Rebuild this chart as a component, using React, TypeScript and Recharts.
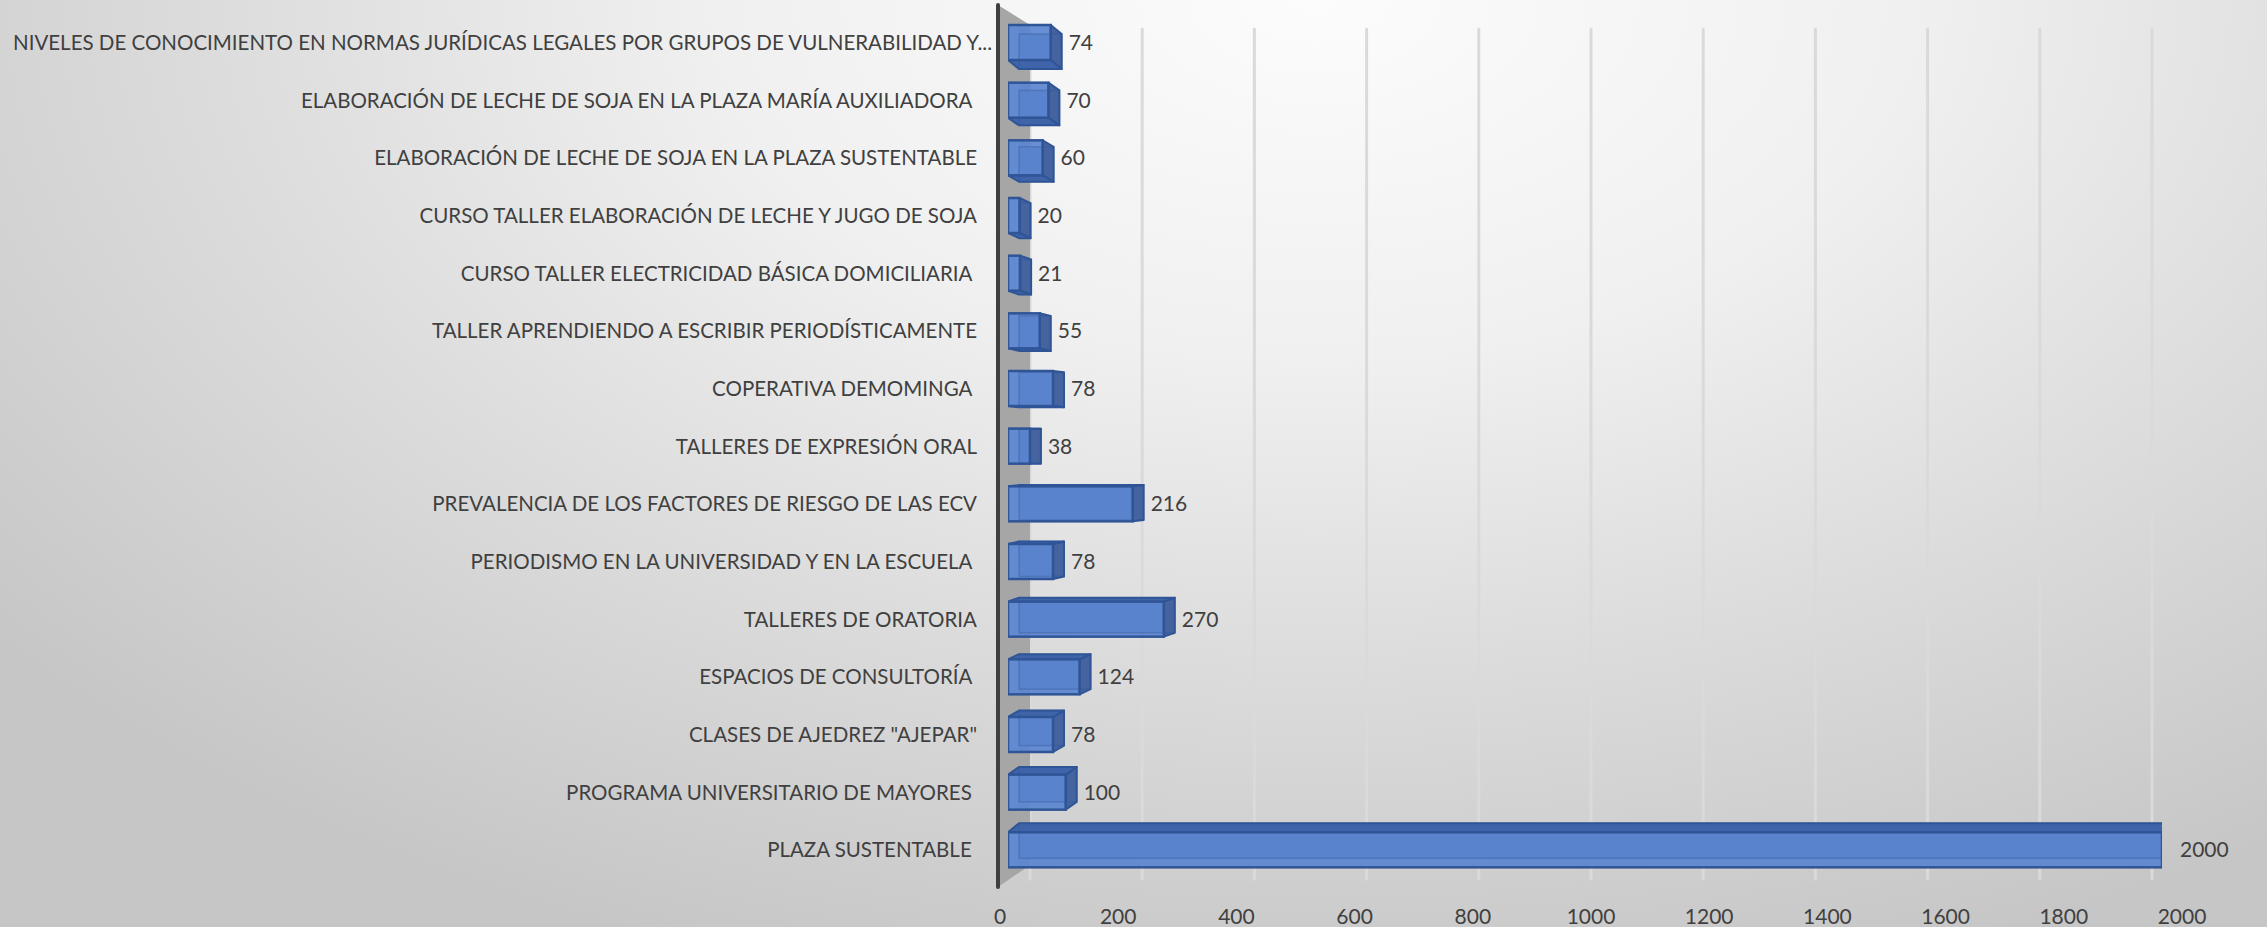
import React from "react";
import {
  BarChart,
  Bar,
  XAxis,
  YAxis,
  CartesianGrid,
  LabelList,
  ReferenceArea,
} from "recharts";

const categories: string[] = [
  "NIVELES DE CONOCIMIENTO EN NORMAS JURÍDICAS LEGALES POR GRUPOS DE VULNERABILIDAD Y...",
  "ELABORACIÓN DE LECHE DE SOJA EN LA PLAZA MARÍA AUXILIADORA\u00A0",
  "ELABORACIÓN DE LECHE DE SOJA EN LA PLAZA SUSTENTABLE",
  "CURSO TALLER ELABORACIÓN DE LECHE Y JUGO DE SOJA",
  "CURSO TALLER ELECTRICIDAD BÁSICA DOMICILIARIA\u00A0",
  "TALLER APRENDIENDO A ESCRIBIR PERIODÍSTICAMENTE",
  "COPERATIVA DEMOMINGA\u00A0",
  "TALLERES DE EXPRESIÓN ORAL",
  "PREVALENCIA DE LOS FACTORES DE RIESGO DE LAS ECV",
  "PERIODISMO EN LA UNIVERSIDAD Y EN LA ESCUELA\u00A0",
  "TALLERES DE ORATORIA",
  "ESPACIOS DE CONSULTORÍA\u00A0",
  'CLASES DE AJEDREZ "AJEPAR"',
  "PROGRAMA UNIVERSITARIO DE MAYORES\u00A0",
  "PLAZA SUSTENTABLE\u00A0",
];

const values: number[] = [74, 70, 60, 20, 21, 55, 78, 38, 216, 78, 270, 124, 78, 100, 2000];

const xTicks: number[] = [0, 200, 400, 600, 800, 1000, 1200, 1400, 1600, 1800, 2000];

const data = categories.map((name, i) => ({ name, v: values[i] }));

const FONT = "Lato, 'Open Sans', sans-serif";
const TEXT = "#404040";

const Box3D = (p: any) => {
  const { x, y, width: w, height: h } = p;
  if (!w || w <= 0) return null;
  const cy = y + h / 2;
  const dx = 11;
  const dy = 9 - (18 * (cy - 42)) / 808;
  const pts = (arr: number[][]) => arr.map((a) => a.join(",")).join(" ");
  const side = [
    [x + w, y],
    [x + w + dx, y + dy],
    [x + w + dx, y + dy + h],
    [x + w, y + h],
  ];
  const cap =
    dy > 0
      ? [
          [x, y + h],
          [x + dx, y + h + dy],
          [x + w + dx, y + h + dy],
          [x + w, y + h],
        ]
      : [
          [x, y],
          [x + dx, y + dy],
          [x + w + dx, y + dy],
          [x + w, y],
        ];
  return (
    <g>
      <rect x={x + dx} y={y + dy} width={w} height={h} fill="#4a72bd" />
      <polygon points={pts(side)} fill="#44639f" stroke="#2f5597" strokeWidth={2} strokeLinejoin="round" />
      <polygon points={pts(cap)} fill="#3f64a9" stroke="#2f5597" strokeWidth={2} strokeLinejoin="round" />
      <rect x={x} y={y} width={w} height={h} fill="#5b84cf" fillOpacity={0.92} />
      <rect x={x} y={y} width={dx} height={h} fill="#6690d8" fillOpacity={0.5} />
      <rect
        x={x + dx}
        y={y + dy}
        width={w}
        height={h}
        fill="none"
        stroke="#2f5597"
        strokeOpacity={0.35}
        strokeWidth={1.5}
      />
      <rect x={x} y={y} width={w} height={h} fill="none" stroke="#2f5597" strokeWidth={2.5} />
    </g>
  );
};

const Wall = (p: any) => {
  const { x, y, height: h } = p;
  const left = x - 10;
  const pts = [
    [left, y - 9],
    [left + 32, y + 11],
    [left + 32, y + h - 14],
    [left, y + h + 8],
  ]
    .map((a) => a.join(","))
    .join(" ");
  return (
    <g>
      <polygon points={pts} fill="#a6a6a6" />
      <line x1={left} y1={y - 9} x2={left} y2={y + h + 8} stroke="#3f3f3f" strokeWidth={4} strokeLinecap="round" />
    </g>
  );
};

const CatTick = (p: any) => {
  const { x, y, payload } = p;
  const s: string = String(payload.value);
  const truncated = s.endsWith("...");
  return (
    <text
      x={truncated ? x + 15 : x}
      y={y}
      dy={7}
      textAnchor="end"
      fill={TEXT}
      fontSize={20.5}
      fontFamily={FONT}
    >
      {s}
    </text>
  );
};

const GridLine = (p: any) => {
  const { x1, y1, x2, y2 } = p;
  return (
    <line
      x1={x1}
      y1={y1 + 15}
      x2={x2}
      y2={y2}
      stroke="#dadada"
      strokeWidth={3}
      strokeLinecap="round"
    />
  );
};

export default function App() {
  return (
    <div
      style={{
        position: "absolute",
        left: 0,
        top: 0,
        width: 2267,
        height: 927,
        background:
          "radial-gradient(ellipse 75% 110% at 58% 0%, #fcfcfc 0%, #f0f0f0 35%, #dcdcdc 65%, #c6c6c6 100%)",
      }}
    >
      <BarChart
        width={2267}
        height={927}
        data={data}
        layout="vertical"
        margin={{ top: 14, right: 67, bottom: 0, left: 0 }}
      >
        <XAxis
          xAxisId="t"
          type="number"
          domain={[0, 2000]}
          allowDataOverflow
          ticks={xTicks}
          padding={{ left: 2, right: 18 }}
          axisLine={false}
          tickLine={false}
          tickSize={0}
          tickMargin={30}
          height={48}
          tick={{ fill: TEXT, fontSize: 21, fontFamily: FONT }}
          interval={0}
        />
        <XAxis
          xAxisId="g"
          type="number"
          domain={[0, 2000]}
          allowDataOverflow
          ticks={xTicks}
          padding={{ left: 32, right: 48 }}
          height={0}
          hide
        />
        <XAxis
          xAxisId="b"
          type="number"
          domain={[0, 2000]}
          allowDataOverflow
          ticks={xTicks}
          padding={{ left: 10, right: 38 }}
          height={0}
          hide
        />
        <YAxis
          type="category"
          dataKey="name"
          width={998}
          axisLine={false}
          tickLine={false}
          tickSize={0}
          tickMargin={21}
          interval={0}
          tick={<CatTick />}
        />
        <CartesianGrid
          xAxisId="g"
          horizontal={false}
          stroke="#dadada"
          strokeWidth={3}
          syncWithTicks
          vertical={(props: any) => <GridLine key={props.key} {...props} />}
        />
        <ReferenceArea xAxisId="b" x1={0} x2={1} ifOverflow="visible" shape={<Wall />} />
        <Bar xAxisId="b" dataKey="v" barSize={35} shape={<Box3D />} isAnimationActive={false}>
          <LabelList
            dataKey="v"
            position="right"
            offset={18}
            fill={TEXT}
            fontSize={21}
            fontFamily={FONT}
          />
        </Bar>
      </BarChart>
    </div>
  );
}
